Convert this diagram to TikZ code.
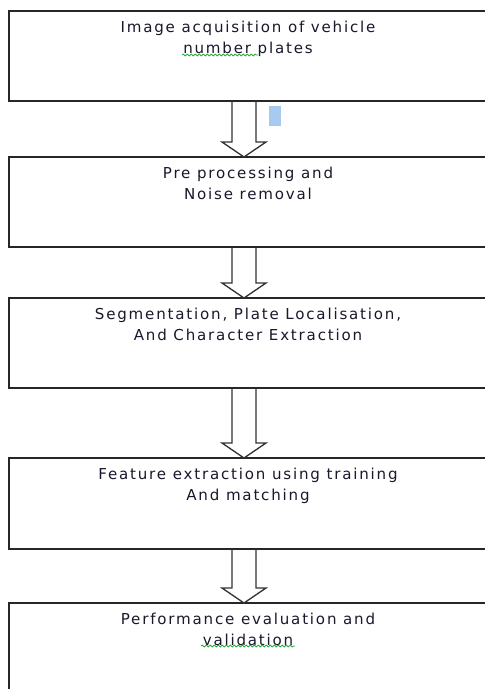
\documentclass[tikz,border=0pt]{standalone}
\usepackage{fontspec}
\newfontfamily\stagefont{DejaVu Sans}[LetterSpace=12]
\usetikzlibrary{calc,decorations.pathmorphing}
\definecolor{selblue}{RGB}{166,202,240}
\definecolor{spellgreen}{RGB}{40,170,60}
\definecolor{inkcol}{RGB}{25,25,45}
\tikzset{
  stage/.style={draw=black!85, line width=1.3pt, rectangle, minimum width=368.25pt,
    minimum height=67.5pt, inner sep=0pt, outer sep=0pt, anchor=north west},
  lbl/.style={font=\stagefont\fontsize{11.3}{15.3}\selectfont, align=center,
    text=inkcol, anchor=north, inner sep=0pt},
  blk/.style={draw=black!80, line width=1pt, line join=miter},
  squig/.style={draw=spellgreen, line width=0.6pt, decorate,
    decoration={snake, amplitude=0.7pt, segment length=3pt}}
}
\newcommand\stagearrow[2]{%
  \draw[blk] ($(#1.south -| ax)+(-12,0)$) -- ($(#2.north -| ax)+(-12,-15)$) -- ++(-10,0)
    -- (#2.north -| ax) -- ++(22,-15) -- ++(-10,0) -- ($(#1.south -| ax)+(12,0)$);}
\begin{document}
\begin{tikzpicture}[x=0.75pt,y=-0.75pt]
\useasboundingbox (0,0) rectangle (485,689);
\clip (0,0) rectangle (485,689);
\fill[white] (0,0) rectangle (485,689);
\coordinate (ax) at (244,0);
\node[stage] (b1) at (9,11) {};
\node[stage] (b2) at (9,157) {};
\node[stage] (b3) at (9,298) {};
\node[stage, minimum height=68.25pt] (b4) at (9,458) {};
\node[stage, minimum height=80pt] (b5) at (9,603) {};
\node[lbl] (t1) at (248,21) {Image acquisition of vehicle\\number plates};
\node[lbl] (t2) at (248,167) {Pre processing and\\Noise removal};
\node[lbl] (t3) at (248,308) {Segmentation, Plate Localisation,\\And Character Extraction};
\node[lbl] (t4) at (248,468) {Feature extraction using training\\And matching};
\node[lbl] (t5) at (248,613) {Performance evaluation and\\validation};
\stagearrow{b1}{b2}
\stagearrow{b2}{b3}
\stagearrow{b3}{b4}
\stagearrow{b4}{b5}
\fill[selblue] (269,106) rectangle (281,126);
\draw[squig] (182,55) -- (258,55);
\draw[squig] (201,646) -- (295,646);
\end{tikzpicture}
\end{document}
